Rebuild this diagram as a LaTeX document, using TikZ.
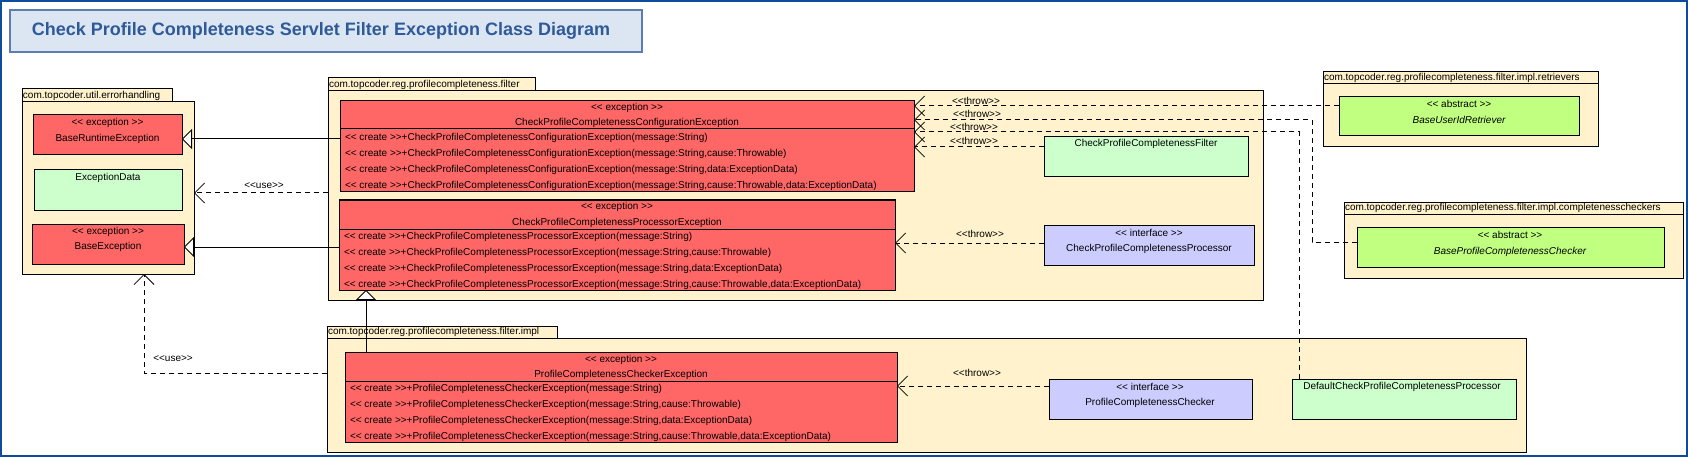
\documentclass[tikz,border=0pt]{standalone}
\usepackage{fontspec}
\setmainfont{Liberation Sans}
\usetikzlibrary{arrows.meta}
\definecolor{pkgc}{HTML}{FFF2CC}
\definecolor{redc}{HTML}{FF6666}
\definecolor{grnc}{HTML}{CCFFCC}
\definecolor{limec}{HTML}{C0FF80}
\definecolor{bluc}{HTML}{CCCCFF}
\definecolor{tfill}{HTML}{DCE6F2}
\definecolor{tdraw}{HTML}{5B7DB1}
\definecolor{ttext}{HTML}{2F5A99}
\definecolor{framec}{HTML}{0D4C9C}
\newcommand\umlL{<\kern0pt<}
\newcommand\umlR{>\kern0pt>}
\newcommand\umlbox[6]{\node[#6, anchor=north west, inner sep=0pt, outer sep=0pt, minimum width={(#4-#2)*1pt}, minimum height={(#5-#3)*1pt}] (#1) at (#2,#3) {};}
\newcommand\ctorrows[4]{%
  \node[txt,anchor=west] (#1m1) at (#2,#3) {\umlL{} create \umlR+#4(message:String)};
  \node[txt,anchor=west] (#1m2) at (#2,#3+16) {\umlL{} create \umlR+#4(message:String,cause:Throwable)};
  \node[txt,anchor=west] (#1m3) at (#2,#3+32) {\umlL{} create \umlR+#4(message:String,data:ExceptionData)};
  \node[txt,anchor=west] (#1m4) at (#2,#3+48) {\umlL{} create \umlR+#4(message:String,cause:Throwable,data:ExceptionData)};}
\tikzset{
  pkg/.style={draw=black, fill=pkgc, line width=1pt},
  cls/.style={draw=black, line width=1pt},
  txt/.style={font=\fontsize{10}{12}\selectfont, inner sep=0pt, outer sep=0pt, text=black},
  dep/.style={line width=1pt, dash pattern=on 5pt off 4pt, -{Straight Barb[length=10pt,width=20pt,line width=0.8pt]}},
  gen/.style={line width=1pt, -{Triangle[open,length=10pt,width=20pt,fill=white,line width=0.8pt]}},
  sepline/.style={line width=1pt}
}
\begin{document}
\begin{tikzpicture}[x=1pt,y=-1pt]
\useasboundingbox (0,0) rectangle (1688,457);
\draw[framec, line width=2pt] (1,1) rectangle (1687,456);
% title
\umlbox{titlebox}{10}{10}{642}{52}{draw=tdraw, fill=tfill, line width=1.2pt}
\node[font=\bfseries\fontsize{18}{20}\selectfont, text=ttext, inner sep=0pt] (title) at (321,31) {Check Profile Completeness Servlet Filter Exception Class Diagram};
% packages
\umlbox{errhtab}{22}{89}{172}{102}{pkg}
\umlbox{errh}{22}{102}{194}{274}{pkg}
\node[txt,anchor=west] (errhlbl) at (23,96) {com.topcoder.util.errorhandling};
\umlbox{filttab}{328}{78}{535}{91}{pkg}
\umlbox{filt}{328}{91}{1263}{300}{pkg}
\node[txt,anchor=west] (filtlbl) at (329,85) {com.topcoder.reg.profilecompleteness.filter};
\umlbox{impltab}{327}{326}{557}{338}{pkg}
\umlbox{impl}{327}{338}{1526}{452}{pkg}
\node[txt,anchor=west] (impllbl) at (328,332) {com.topcoder.reg.profilecompleteness.filter.impl};
\umlbox{retr}{1323}{72}{1598}{147}{pkg}
\draw[sepline] (retr.west |- 0,84) -- (retr.east |- 0,84);
\node[txt,anchor=west] (retrlbl) at (1324,78) {com.topcoder.reg.profilecompleteness.filter.impl.retrievers};
\umlbox{chk}{1344}{202}{1683}{278}{pkg}
\draw[sepline] (chk.west |- 0,214) -- (chk.east |- 0,214);
\node[txt,anchor=west] (chklbl) at (1345,208) {com.topcoder.reg.profilecompleteness.filter.impl.completenesscheckers};
% errorhandling classes
\umlbox{brx}{33}{115}{182}{155}{cls, fill=redc}
\node[txt] (brxs) at (107.5,123) {\umlL{} exception \umlR};
\node[txt] (brxn) at (107.5,139) {BaseRuntimeException};
\umlbox{exd}{34}{170}{182}{210}{cls, fill=grnc}
\node[txt] (exdn) at (108,178) {ExceptionData};
\umlbox{bex}{32}{224}{184}{264}{cls, fill=redc}
\node[txt] (bexs) at (108,232) {\umlL{} exception \umlR};
\node[txt] (bexn) at (108,247) {BaseException};
% filter classes
\umlbox{cfg}{340}{101}{914}{192}{cls, fill=redc}
\node[txt] (cfgs) at (627,108) {\umlL{} exception \umlR};
\node[txt] (cfgn) at (627,123) {CheckProfileCompletenessConfigurationException};
\draw[sepline] (cfg.west |- 0,129) -- (cfg.east |- 0,129);
\ctorrows{cfg}{345}{138}{CheckProfileCompletenessConfigurationException}
\umlbox{pre}{339}{200}{895}{290}{cls, fill=redc}
\node[txt] (pres) at (617,207) {\umlL{} exception \umlR};
\node[txt] (pren) at (617,223) {CheckProfileCompletenessProcessorException};
\draw[sepline] (pre.west |- 0,229) -- (pre.east |- 0,229);
\ctorrows{pre}{344}{237}{CheckProfileCompletenessProcessorException}
\umlbox{flt}{1044}{137}{1248}{177}{cls, fill=grnc}
\node[txt] (fltn) at (1146,144) {CheckProfileCompletenessFilter};
\umlbox{prc}{1044}{225}{1254}{265}{cls, fill=bluc}
\node[txt] (prcs) at (1149,233) {\umlL{} interface \umlR};
\node[txt] (prcn) at (1149,249) {CheckProfileCompletenessProcessor};
% retrievers / checkers
\umlbox{bur}{1339}{97}{1579}{136}{cls, fill=limec}
\node[txt] (burs) at (1459,104) {\umlL{} abstract \umlR};
\node[txt, font=\itshape\fontsize{10}{12}\selectfont] (burn) at (1459,120) {BaseUserIdRetriever};
\umlbox{bpc}{1357}{227}{1664}{267}{cls, fill=limec}
\node[txt] (bpcs) at (1510,235) {\umlL{} abstract \umlR};
\node[txt, font=\itshape\fontsize{10}{12}\selectfont] (bpcn) at (1510,252) {BaseProfileCompletenessChecker};
% impl classes
\umlbox{pce}{345}{352}{897}{442}{cls, fill=redc}
\node[txt] (pces) at (621,360) {\umlL{} exception \umlR};
\node[txt] (pcen) at (621,375) {ProfileCompletenessCheckerException};
\draw[sepline] (pce.west |- 0,381) -- (pce.east |- 0,381);
\ctorrows{pce}{350}{389}{ProfileCompletenessCheckerException}
\umlbox{pcc}{1049}{379}{1252}{419}{cls, fill=bluc}
\node[txt] (pccs) at (1150,387) {\umlL{} interface \umlR};
\node[txt] (pccn) at (1150,403) {ProfileCompletenessChecker};
\umlbox{dcp}{1292}{379}{1516}{419}{cls, fill=grnc}
\node[txt] (dcpn) at (1402,387) {DefaultCheckProfileCompletenessProcessor};
% generalizations
\draw[gen] (cfg.west |- 0,139) -- (brx.east |- 0,139);
\draw[gen] (pre.west |- 0,247) -- (bex.east |- 0,247);
\draw[gen] (pce.north -| 366,0) -- (pre.south -| 366,0);
% use dependencies
\draw[dep] (filt.west |- 0,193) -- (errh.east |- 0,193);
\node[txt] (use1) at (264,186) {\umlL use\umlR};
\draw[dep] (impl.west |- 0,373) -| (errh.south -| 144,0);
\node[txt] (use2) at (173,359) {\umlL use\umlR};
% throw dependencies
\draw[dep] (bur.west |- 0,106) -- (cfg.east |- 0,106);
\node[txt] (thr1) at (976,101) {\umlL throw\umlR};
\draw[dep] (bpc.west |- 0,242) -| (1312,120) -- (cfg.east |- 0,120);
\node[txt] (thr2) at (977,114) {\umlL throw\umlR};
\draw[dep] (dcp.north -| 1299,0) -- (1299,132) -- (cfg.east |- 0,132);
\node[txt] (thr3) at (974,127) {\umlL throw\umlR};
\draw[dep] (flt.west |- 0,147) -- (cfg.east |- 0,147);
\node[txt] (thr4) at (974,141) {\umlL throw\umlR};
\draw[dep] (prc.west |- 0,243) -- (pre.east |- 0,243);
\node[txt] (thr5) at (980,234) {\umlL throw\umlR};
\draw[dep] (pcc.west |- 0,386) -- (pce.east |- 0,386);
\node[txt] (thr6) at (977,373) {\umlL throw\umlR};
\end{tikzpicture}
\end{document}
